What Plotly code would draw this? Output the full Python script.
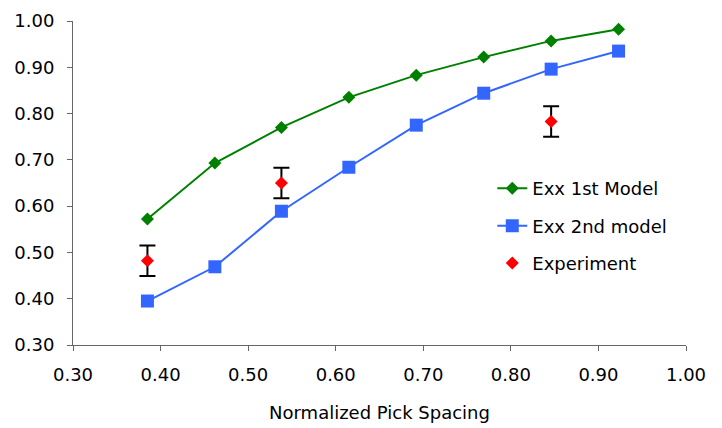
import plotly.graph_objects as go

x_model = [0.385, 0.462, 0.538, 0.615, 0.692, 0.769, 0.846, 0.923]
exx_1st = [0.572, 0.693, 0.770, 0.835, 0.883, 0.922, 0.957, 0.982]
exx_2nd = [0.395, 0.469, 0.589, 0.684, 0.775, 0.844, 0.896, 0.935]
x_exp = [0.385, 0.538, 0.846]
y_exp = [0.482, 0.650, 0.783]
err_exp = [0.033, 0.033, 0.033]
tick_vals = [0.30, 0.40, 0.50, 0.60, 0.70, 0.80, 0.90, 1.00]
tick_text = ["%.2f" % v for v in tick_vals]

FONT = "DejaVu Sans"
FS = 18

fig = go.Figure()
fig.add_trace(go.Scatter(
    x=x_model, y=exx_1st, mode="lines+markers", name="Exx 1st Model",
    legendgroup="a",
    line=dict(color="#008000", width=2),
    marker=dict(symbol="diamond", size=10, color="#008000"),
))
fig.add_trace(go.Scatter(
    x=x_model, y=exx_2nd, mode="lines+markers", name="Exx 2nd model",
    legendgroup="b",
    line=dict(color="#3366FF", width=2),
    marker=dict(symbol="square", size=13, color="#3366FF"),
))
fig.add_trace(go.Scatter(
    x=x_exp, y=y_exp, mode="markers", name="Experiment",
    legendgroup="c",
    marker=dict(symbol="diamond", size=10, color="#FF0000"),
    error_y=dict(type="data", array=err_exp, visible=True,
                 color="black", thickness=2, width=8),
))

axis_common = dict(
    showgrid=False, zeroline=False, showline=True, linecolor="#666666",
    linewidth=1, ticks="outside", ticklen=5, tickcolor="#666666",
    tickfont=dict(family=FONT, size=FS, color="black"),
    tickvals=tick_vals, ticktext=tick_text, automargin=False,
)
fig.update_xaxes(range=[0.30, 1.00], ticklabelstandoff=8, **axis_common,
                 title=dict(text="Normalized Pick Spacing",
                            font=dict(family=FONT, size=FS, color="black"),
                            standoff=22))
fig.update_yaxes(range=[0.30, 1.00], ticklabelstandoff=9, **axis_common)

fig.update_layout(
    width=722, height=428,
    margin=dict(l=73, r=36, t=21, b=83, autoexpand=False),
    paper_bgcolor="white", plot_bgcolor="white",
    font=dict(family=FONT, size=FS, color="black"),
    legend=dict(x=0.684, y=0.54, xanchor="left", yanchor="top",
                traceorder="grouped", tracegroupgap=11,
                bgcolor="rgba(0,0,0,0)",
                font=dict(family=FONT, size=FS, color="black")),
    showlegend=True,
)

fig.write_html("out.html")
